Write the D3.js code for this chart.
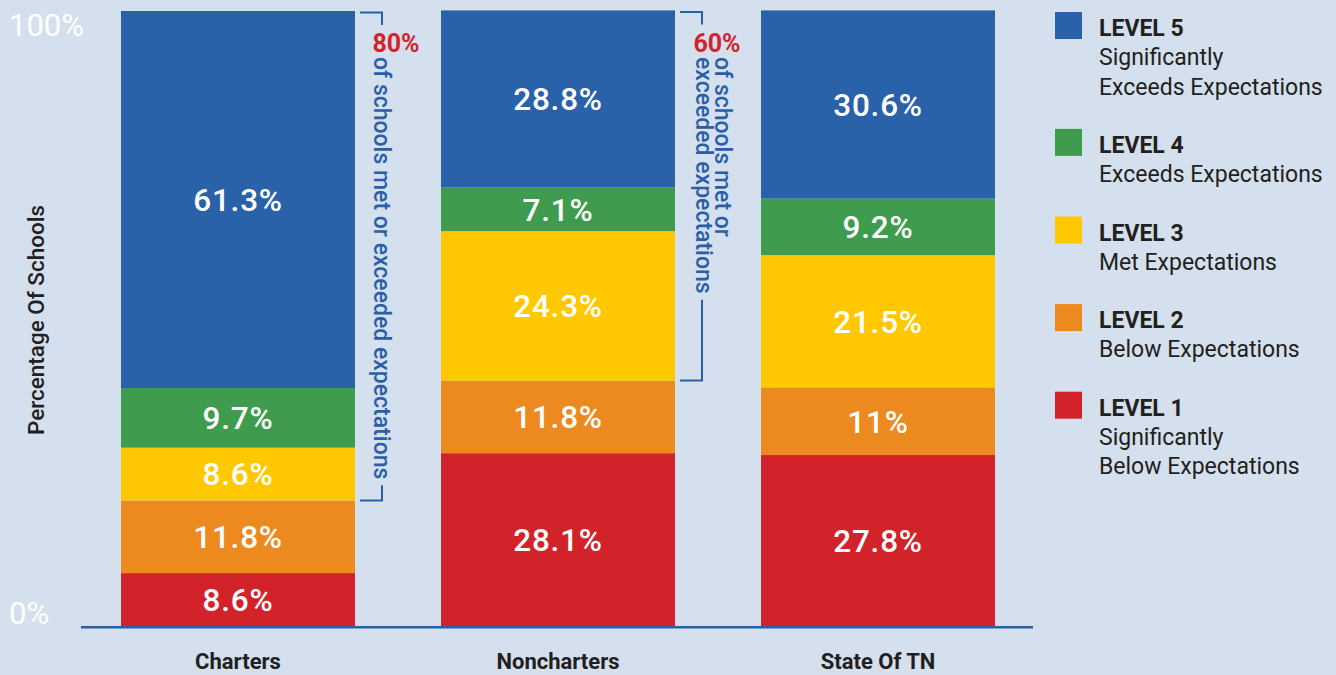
<!DOCTYPE html>
<html><head><meta charset="utf-8">
<script src="https://cdn.jsdelivr.net/npm/d3@7"></script>
<style>
html,body{margin:0;padding:0;background:#d4e0ed;}
svg{display:block;font-family:Roboto, "Open Sans", sans-serif;}
</style></head>
<body>
<svg id="chart" width="1336" height="675"></svg>
<script>
const categories = ["Charters", "Noncharters", "State Of TN"];
const level1 = [8.6, 28.1, 27.8];
const level2 = [11.8, 11.8, 11];
const level3 = [8.6, 24.3, 21.5];
const level4 = [9.7, 7.1, 9.2];
const level5 = [61.3, 28.8, 30.6];
const levelKeys = ["Level 1", "Level 2", "Level 3", "Level 4", "Level 5"];
const levelColors = ["#d2232a", "#ec891f", "#ffc800", "#3f9c4e", "#2a62aa"];
const legendTitles = ["LEVEL 5", "LEVEL 4", "LEVEL 3", "LEVEL 2", "LEVEL 1"];
const legendDescs = [["Significantly", "Exceeds Expectations"], ["Exceeds Expectations"], ["Met Expectations"], ["Below Expectations"], ["Significantly", "Below Expectations"]];
const legendColors = ["#2a62aa", "#3f9c4e", "#ffc800", "#ec891f", "#d2232a"];
const yTicks = [0, 100];
const annotCats = ["Charters", "Noncharters"];
const annotPct = ["80%", "60%"];
const annotLines = [["of schools met or exceeded expectations"], ["of schools met or", "exceeded expectations"]];

const rows = categories.map((c, i) => ({cat: c, "Level 1": level1[i], "Level 2": level2[i], "Level 3": level3[i], "Level 4": level4[i], "Level 5": level5[i]}));
const stacked = d3.stack().keys(levelKeys)(rows);

const svg = d3.select("#chart");
const x = d3.scaleBand().domain(categories).range([81, 1035]).paddingInner(0.26875).paddingOuter(0.125);
const y = d3.scaleLinear().domain([0, 100]).range([626, 11]);
const color = d3.scaleOrdinal().domain(levelKeys).range(levelColors);

// bars
const g = svg.append("g");
stacked.forEach(layer => {
  g.selectAll(null).data(layer).enter().append("rect")
    .attr("x", d => x(d.data.cat))
    .attr("y", d => y(d[1]))
    .attr("width", x.bandwidth())
    .attr("height", d => y(d[0]) - y(d[1]))
    .attr("fill", color(layer.key));
  g.selectAll(null).data(layer).enter().append("text")
    .attr("x", d => x(d.data.cat) + x.bandwidth() / 2)
    .attr("y", d => (y(d[0]) + y(d[1])) / 2)
    .attr("dy", "0.36em")
    .attr("text-anchor", "middle")
    .attr("fill", "#fff")
    .attr("font-size", 31.5)
    .attr("font-weight", 500)
    .attr("letter-spacing", 0.8)
    .text(d => (d[1] - d[0]).toFixed(1).replace(/\.0$/, "") + "%");
});

// baseline
svg.append("line").attr("x1", 81).attr("x2", 1033).attr("y1", y(0) + 1.2).attr("y2", y(0) + 1.2)
  .attr("stroke", "#2a5fa8").attr("stroke-width", 2.5);

// y tick labels
svg.selectAll(null).data(yTicks).enter().append("text")
  .attr("x", 9).attr("y", d => d === 0 ? y(d) - 2 : y(d) + 25)
  .attr("fill", "#fff").attr("font-size", 31).attr("font-weight", 400)
  .text(d => d + "%");

// y axis title
svg.append("text").attr("transform", "translate(44,320) rotate(-90)")
  .attr("text-anchor", "middle").attr("font-size", 22.5).attr("font-weight", 500).attr("fill", "#231f20")
  .text("Percentage Of Schools");

// category labels
svg.selectAll(null).data(categories).enter().append("text")
  .attr("x", d => x(d) + x.bandwidth() / 2).attr("y", 669)
  .attr("text-anchor", "middle").attr("font-size", 22).attr("font-weight", 700).attr("fill", "#231f20")
  .text(d => d);

// annotations (brackets)
const blue = "#2a5fa8";
annotCats.forEach((c, i) => {
  const idx = categories.indexOf(c);
  const top = y(d3.sum(levelKeys.map((k) => rows[idx][k])));
  const bottom = y(rows[idx]["Level 1"] + rows[idx]["Level 2"]);
  const x0 = x(c) + x.bandwidth() + 5;
  const xl = x0 + 22;
  const a = svg.append("g");
  const lines = annotLines[i];
  const textStart = 57;
  const lineGap = 19;
  let maxLen = 0;
  lines.forEach((t, j) => {
    const baseX = (lines.length === 1) ? xl - 8 : xl + 13 - j * lineGap;
    const tEl = a.append("text")
      .attr("transform", `translate(${baseX},${textStart}) rotate(90)`)
      .attr("font-size", 23).attr("font-weight", 500).attr("fill", blue)
      .text(t);
    maxLen = Math.max(maxLen, tEl.node().getComputedTextLength());
  });
  const pctX = (lines.length === 1) ? xl + 14 : xl + 15;
  a.append("text").attr("x", pctX).attr("y", 52).attr("text-anchor", "middle")
    .attr("font-size", 25).attr("font-weight", 700).attr("fill", "#d2232a").text(annotPct[i]);
  a.append("path").attr("d", `M${x0},${top + 1.5}H${xl}V${top + 14}`)
    .attr("fill", "none").attr("stroke", blue).attr("stroke-width", 2);
  a.append("path").attr("d", `M${xl},${textStart + maxLen + 6}V${bottom}H${x0}`)
    .attr("fill", "none").attr("stroke", blue).attr("stroke-width", 2);
});

// legend
let ly = 12;
const lg = svg.append("g");
legendTitles.forEach((t, i) => {
  lg.append("rect").attr("x", 1055).attr("y", ly).attr("width", 27).attr("height", 27).attr("fill", legendColors[i]);
  lg.append("text").attr("x", 1099).attr("y", ly + 24).attr("font-size", 23).attr("font-weight", 700).attr("fill", "#231f20").text(t);
  legendDescs[i].forEach((d, j) => {
    lg.append("text").attr("x", 1099).attr("y", ly + 24 + (j + 1) * 29.3).attr("font-size", 23).attr("font-weight", 400).attr("fill", "#231f20").text(d);
  });
  ly += (legendDescs[i].length + 1) * 29.3 + 29;
});
</script>
</body></html>
